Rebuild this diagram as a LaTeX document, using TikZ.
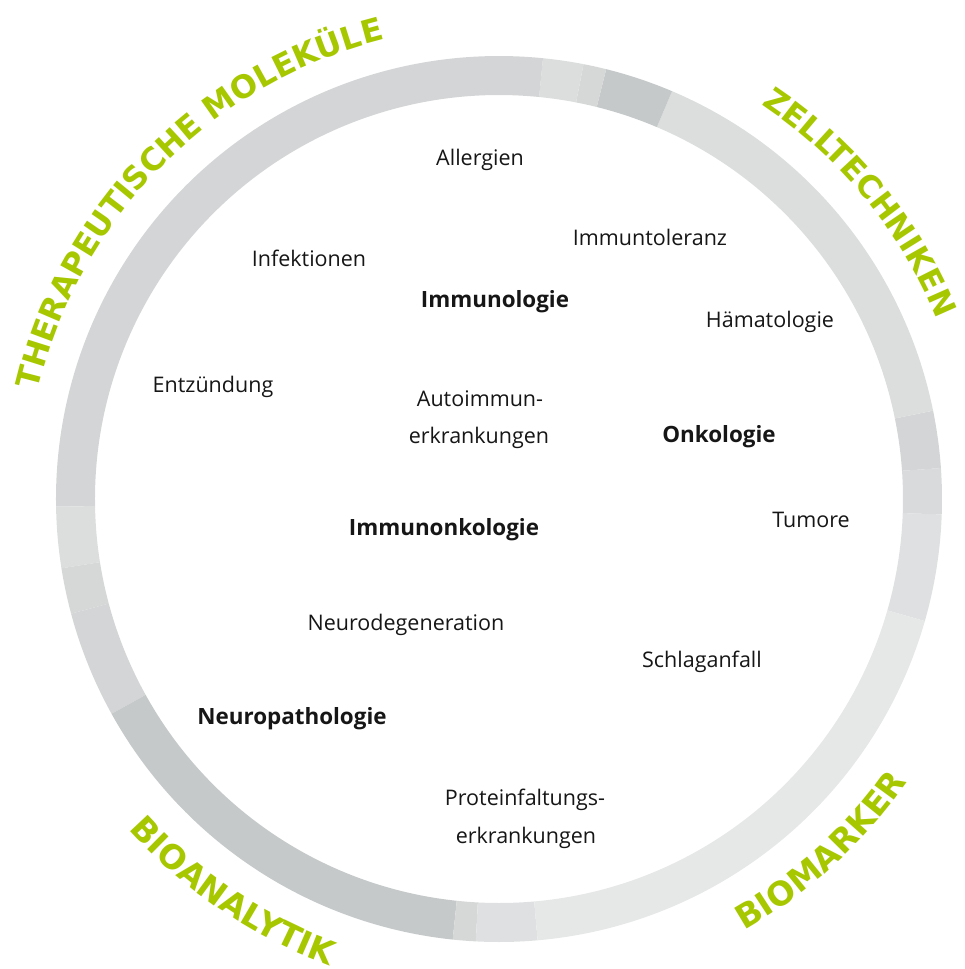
\documentclass[tikz,border=0pt]{standalone}
\usepackage{fontspec}
\setmainfont{Open Sans}
\newfontfamily\ringfont{DejaVu Sans}
\usetikzlibrary{decorations.text}
\definecolor{lime}{RGB}{167,199,0}
\definecolor{gA}{HTML}{D4D5D6}
\definecolor{gB}{HTML}{DCDDDD}
\definecolor{gC}{HTML}{D6D8D8}
\definecolor{gD}{HTML}{C6C9CA}
\definecolor{gE}{HTML}{DFE0E1}
\definecolor{gF}{HTML}{E6E7E7}
\definecolor{gG}{HTML}{D9DADB}
\definecolor{txt}{HTML}{161616}
\newcommand\ringseg[3]{%
  \fill[#3] (#1:404pt) arc[start angle=#1, end angle=#2, radius=404pt]
    -- (#2:443pt) arc[start angle=#2, end angle=#1, radius=443pt] -- cycle;}
\tikzset{
  lbl/.style={font=\fontsize{21.5}{21.5}\selectfont, text=txt, anchor=base, inner sep=0pt},
  blbl/.style={lbl, font=\fontsize{22.4}{22.4}\selectfont\bfseries},
}
\begin{document}
\begin{tikzpicture}[x=1pt,y=1pt]
\useasboundingbox (-499pt,-470pt) rectangle (466pt,499pt);
% ring
\ringseg{-16}{-2}{gE}
\ringseg{-2}{4}{gG}
\ringseg{4}{11.5}{gA}
\ringseg{11.5}{67}{gB}
\ringseg{67}{76}{gD}
\ringseg{76}{79}{gC}
\ringseg{79}{84.3}{gB}
\ringseg{84.3}{181}{gA}
\ringseg{181}{189}{gB}
\ringseg{189}{195}{gC}
\ringseg{195}{209}{gA}
\ringseg{209}{264}{gD}
\ringseg{264}{267}{gC}
\ringseg{267}{275}{gE}
\ringseg{275}{344}{gF}
% curved titles
\path[decorate, decoration={text along path, text align=center, text color=lime,
  text={|\ringfont\bfseries\fontsize{31.6}{31.6}\selectfont|THERAPEUTISCHE MOLEKÜLE}}]
  (175.35:473.5pt) arc[start angle=175.35, end angle=95.35, radius=473.5pt];
\path[decorate, decoration={text along path, text align=left, text color=lime,
  text={|\ringfont\bfseries\fontsize{31.4}{31.4}\selectfont|ZELL}}]
  (56.38:473.5pt) arc[start angle=56.38, end angle=36.38, radius=473.5pt];
\path[decorate, decoration={text along path, text align=left, text color=lime,
  text={|\ringfont\bfseries\fontsize{31.4}{31.4}\selectfont|TECHNIKEN}}]
  (46.8:473.5pt) arc[start angle=46.8, end angle=11.8, radius=473.5pt];
\path[decorate, decoration={text along path, text align=center, text color=lime,
  text={|\ringfont\bfseries\fontsize{33}{33}\selectfont|BIOMARKER}}]
  (-67.55:496.5pt) arc[start angle=-67.55, end angle=-27.55, radius=496.5pt];
\path[decorate, decoration={text along path, text align=left, text color=lime,
  text={|\ringfont\bfseries\fontsize{33}{33}\selectfont|BIOANAL}}]
  (221.74:496.5pt) arc[start angle=221.74, end angle=246.74, radius=496.5pt];
\path[decorate, decoration={text along path, text align=left, text color=lime,
  text={|\ringfont\bfseries\fontsize{33}{33}\selectfont|YTIK}}]
  (240.34:496.5pt) arc[start angle=240.34, end angle=265.34, radius=496.5pt];
% labels
\node[lbl] (allerg) at (-19,333) {Allergien};
\node[lbl] (toler) at (151,253) {Immuntoleranz};
\node[blbl] (immuno) at (-4,191) {Immunologie};
\node[lbl] (haema) at (271,171) {Hämatologie};
\node[lbl] (infek) at (-190,232) {Infektionen};
\node[lbl] (entz) at (-286,106) {Entzündung};
\node[lbl] (autoA) at (-19,92) {Autoimmun-};
\node[lbl] (autoB) at (-20,55) {erkrankungen};
\node[blbl] (onko) at (220,56) {Onkologie};
\node[lbl] (tumor) at (312,-28) {Tumore};
\node[blbl] (immonk) at (-55,-36) {Immunonkologie};
\node[lbl] (neurod) at (-93,-131) {Neurodegeneration};
\node[lbl] (schlag) at (203,-168) {Schlaganfall};
\node[blbl] (neurop) at (-207,-225) {Neuropathologie};
\node[lbl] (protA) at (26,-306) {Proteinfaltungs-};
\node[lbl] (protB) at (27,-344) {erkrankungen};
\end{tikzpicture}
\end{document}
